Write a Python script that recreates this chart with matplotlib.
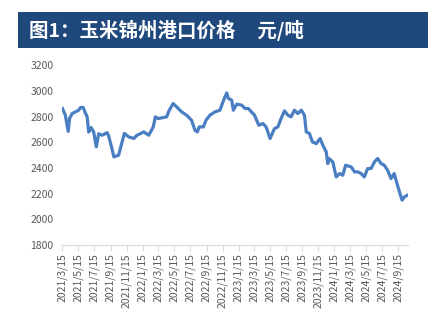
import pandas as pd
import numpy as np
import matplotlib.pyplot as plt
import matplotlib.patches as patches

plt.rcParams['font.family'] = ['Noto Sans CJK SC', 'DejaVu Sans']

# corn price at Jinzhou port, yuan/ton
dates = ['2021-03-15', '2021-03-26', '2021-04-06', '2021-04-11', '2021-04-21', '2021-05-16',
         '2021-05-23', '2021-06-02', '2021-06-11', '2021-06-17', '2021-06-23', '2021-07-02',
         '2021-07-12', '2021-07-22', '2021-07-31', '2021-08-13', '2021-09-01', '2021-09-07',
         '2021-09-18', '2021-09-27', '2021-10-15', '2021-10-25', '2021-11-06', '2021-11-23',
         '2021-12-12', '2021-12-24', '2022-01-19', '2022-02-07', '2022-02-24', '2022-03-04',
         '2022-03-15', '2022-04-16', '2022-04-26', '2022-05-11', '2022-05-24', '2022-06-12',
         '2022-07-01', '2022-07-20', '2022-08-02', '2022-08-11', '2022-08-18', '2022-09-03',
         '2022-09-13', '2022-09-28', '2022-10-17', '2022-11-05', '2022-11-12', '2022-11-24',
         '2022-12-01', '2022-12-07', '2022-12-20', '2022-12-26', '2023-01-08', '2023-01-27',
         '2023-02-09', '2023-02-21', '2023-03-05', '2023-03-17', '2023-04-02', '2023-04-18',
         '2023-04-30', '2023-05-15', '2023-06-01', '2023-06-14', '2023-06-26', '2023-07-09',
         '2023-07-22', '2023-08-03', '2023-08-16', '2023-08-29', '2023-09-11', '2023-09-23',
         '2023-09-30', '2023-10-12', '2023-10-23', '2023-11-07', '2023-11-22', '2023-12-02',
         '2023-12-15', '2023-12-21', '2023-12-25', '2024-01-09', '2024-01-22', '2024-02-04',
         '2024-02-16', '2024-02-27', '2024-03-19', '2024-04-01', '2024-04-14', '2024-04-26',
         '2024-05-08', '2024-05-21', '2024-06-03', '2024-06-16', '2024-06-28', '2024-07-11',
         '2024-07-23', '2024-08-05', '2024-08-18', '2024-08-30', '2024-09-08', '2024-09-19',
         '2024-09-29', '2024-10-08', '2024-10-20']
price = [2863, 2811, 2685, 2785, 2824, 2850,
         2871, 2871, 2824, 2800, 2680, 2715,
         2681, 2565, 2667, 2655, 2675, 2650,
         2565, 2487, 2500, 2578, 2669, 2642,
         2630, 2655, 2681, 2655, 2720, 2798,
         2785, 2798, 2850, 2902, 2876, 2837,
         2811, 2772, 2694, 2681, 2720, 2720,
         2772, 2811, 2837, 2850, 2889, 2953,
         2984, 2942, 2928, 2850, 2897, 2889,
         2863, 2863, 2837, 2811, 2733, 2746,
         2720, 2630, 2707, 2720, 2785, 2845,
         2811, 2798, 2850, 2824, 2850, 2811,
         2681, 2669, 2604, 2590, 2630, 2578,
         2526, 2435, 2475, 2448, 2331, 2357,
         2344, 2422, 2409, 2370, 2370, 2357,
         2331, 2396, 2396, 2448, 2474, 2435,
         2422, 2383, 2318, 2357, 2292, 2215,
         2150, 2176, 2189]
tick_dates = ['2021-03-15', '2021-05-15', '2021-07-15', '2021-09-15', '2021-11-15',
              '2022-01-15', '2022-03-15', '2022-05-15', '2022-07-15', '2022-09-15', '2022-11-15',
              '2023-01-15', '2023-03-15', '2023-05-15', '2023-07-15', '2023-09-15', '2023-11-15',
              '2024-01-15', '2024-03-15', '2024-05-15', '2024-07-15', '2024-09-15']
tick_labels = [f'{d.year}/{d.month}/{d.day}' for d in pd.to_datetime(tick_dates)]

x = pd.to_datetime(dates)

fig = plt.figure(figsize=(4.36, 3.26), dpi=100)

# title band
fig.patches.append(patches.Rectangle((0.041, 0.853), 0.94, 0.111, transform=fig.transFigure,
                                     facecolor='#1F497D', edgecolor='none', zorder=0))
fig.text(0.066, 0.908, '图1：玉米锦州港口价格     元/吨', color='white', fontsize=14,
         fontweight='bold', va='center', ha='left')

ax = fig.add_axes([0.142, 0.248, 0.794, 0.552])
ax.plot(x, price, color='#4A7EC2', linewidth=2.3, solid_joinstyle='round')

ax.set_ylim(1800, 3200)
ax.set_yticks(range(1800, 3201, 200))
ax.set_xlim(pd.Timestamp('2021-03-13'), pd.Timestamp('2024-10-22'))
ax.set_xticks(pd.to_datetime(tick_dates))
ax.set_xticklabels(tick_labels, rotation=90)

for s in ['top', 'right', 'left']:
    ax.spines[s].set_visible(False)
ax.spines['bottom'].set_color('#D9D9D9')
ax.tick_params(axis='y', length=0, labelsize=7.5, labelcolor='#595959', pad=6)
ax.tick_params(axis='x', length=4, color='#D9D9D9', labelsize=7.5, labelcolor='#595959', pad=2)

fig.savefig('out.png', dpi=100)
